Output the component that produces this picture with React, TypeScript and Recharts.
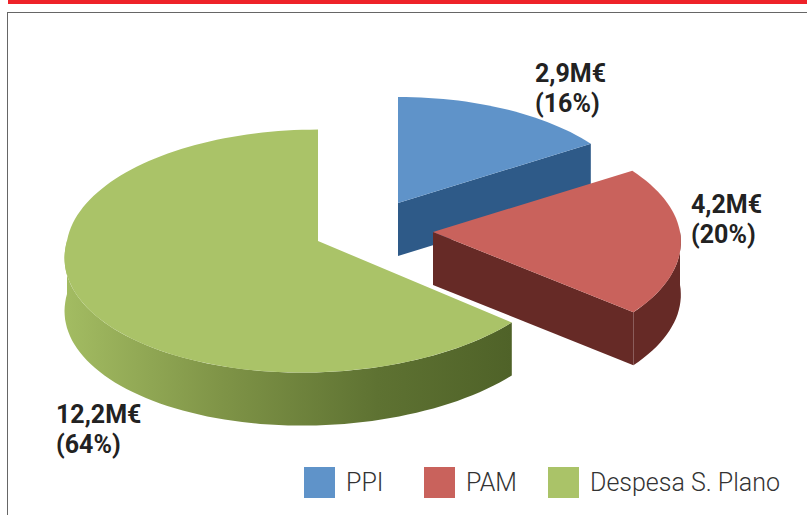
import { PieChart, Pie, Legend } from 'recharts'

const names = ['PPI', 'PAM', 'Despesa S. Plano']
const shares = [16, 20, 64]
const amounts = ['2,9M€', '4,2M€', '12,2M€']
const percents = ['(16%)', '(20%)', '(64%)']
const topColors = ['#5f93c9', '#c9625c', '#aac368']

const tableData = names.map((name, i) => ({ name, value: shares[i], fill: topColors[i] }))

// explode offset, radius and lean of each slice, the picture has some perspective
const sliceGeom = [
  { dx: 80, dy: -38, radius: 239, skew: 0 },
  { dx: 115, dy: -9, radius: 247, skew: 0 },
  { dx: 0, dy: 0, radius: 251, skew: -0.12 },
]
const faceColors = ['#2e5a88', '#662a26', '#4f6228']
const labelPos = [
  { x: 535, y: 82 },
  { x: 691, y: 213 },
  { x: 56, y: 423 },
]
const legendWidths = [120, 124, 240]

const DEPTH = 53
const SQUASH = 0.484
const PERSP = 0.083
const RAD = Math.PI / 180

function project(cx: number, cy: number, r: number, deg: number, skew: number) {
  const c = Math.cos(deg * RAD)
  const s = Math.sin(deg * RAD)
  const k = 1 - PERSP * s
  const dy = -r * SQUASH * s * k
  return { x: cx + r * c * k + Math.max(dy, 0) * skew, y: cy + dy }
}

function arcPoints(cx: number, cy: number, r: number, from: number, to: number, skew: number) {
  const n = Math.max(2, Math.ceil(Math.abs(from - to) / 2))
  const pts = []
  for (let i = 0; i <= n; i++) pts.push(project(cx, cy, r, from + ((to - from) * i) / n, skew))
  return pts
}

const toPath = (pts: { x: number; y: number }[]) =>
  pts.map((p, i) => `${i ? 'L' : 'M'}${p.x.toFixed(1)},${p.y.toFixed(1)}`).join(' ')

function Slice3D(props: any) {
  const { cx, cy, outerRadius, startAngle, endAngle, index, fill } = props
  const g = sliceGeom[index]
  const x0 = cx + g.dx
  const y0 = cy + g.dy
  const r = (outerRadius * g.radius) / 253
  const arc = arcPoints(x0, y0, r, startAngle, endAngle, g.skew)
  const top = toPath([{ x: x0, y: y0 }, ...arc]) + ' Z'

  // outer wall only on the part of the rim that faces the viewer
  const hi = Math.min(startAngle, 0)
  const lo = Math.max(endAngle, -180)
  let wall = null
  if (hi > lo) {
    const rim = arcPoints(x0, y0, r, hi, lo, g.skew)
    const low = rim.map(p => ({ x: p.x, y: p.y + DEPTH })).reverse()
    wall = toPath([...rim, ...low]) + ' Z'
  }

  // cut face at the end of the slice
  let face = null
  if (endAngle > -90) {
    const e = project(x0, y0, r, endAngle, g.skew)
    face = toPath([
      { x: x0, y: y0 },
      e,
      { x: e.x, y: e.y + DEPTH },
      { x: x0, y: y0 + DEPTH },
    ]) + ' Z'
  }

  return (
    <g>
      <defs>
        <linearGradient id="wallGreen" x1="0" y1="0" x2="1" y2="0">
          <stop offset="0" stopColor="#a3bc62" />
          <stop offset="0.35" stopColor="#7f9447" />
          <stop offset="0.7" stopColor="#5e7232" />
          <stop offset="1" stopColor="#4f6228" />
        </linearGradient>
      </defs>
      {wall && <path d={wall} fill={index === 2 ? 'url(#wallGreen)' : faceColors[index]} />}
      {face && <path d={face} fill={faceColors[index]} />}
      <path d={top} fill={fill} />
    </g>
  )
}

function SliceLabel(props: any) {
  const p = labelPos[props.index]
  return (
    <text x={p.x} y={p.y} fontFamily="Roboto" fontWeight={700} fontSize={25} fill="#222">
      <tspan x={p.x}>{amounts[props.index]}</tspan>
      <tspan x={p.x} dy={29.5}>{percents[props.index]}</tspan>
    </text>
  )
}

function ChartLegend({ payload }: any) {
  return (
    <div style={{ display: 'flex', fontFamily: 'Roboto', fontWeight: 300, fontSize: 25, color: '#333', whiteSpace: 'nowrap' }}>
      {(payload || []).map((item: any, i: number) => (
        <div key={item.value} style={{ display: 'flex', alignItems: 'center', width: legendWidths[i] }}>
          <span style={{ width: 31, height: 31, background: topColors[i], marginRight: 11, flexShrink: 0 }} />
          <span>{item.value}</span>
        </div>
      ))}
    </div>
  )
}

export default function App() {
  return (
    <div style={{ position: 'absolute', left: 0, top: 0, width: 807, height: 515, overflow: 'hidden', background: '#fff' }}>
      <div style={{ position: 'absolute', left: 8, top: 0, right: 0, height: 4, background: '#ee2229' }} />
      <div style={{ position: 'absolute', left: 7, top: 12, right: 0, bottom: 0, borderLeft: '1px solid #666', borderTop: '1px solid #666' }} />
      <div style={{ position: 'absolute', left: 0, top: 0 }}>
        <PieChart width={807} height={515} margin={{ top: 0, right: 0, bottom: 0, left: 0 }}>
          <Pie
            data={tableData}
            dataKey="value"
            nameKey="name"
            cx={318}
            cy={241}
            outerRadius={253}
            startAngle={90}
            endAngle={-270}
            stroke="none"
            shape={Slice3D}
            label={SliceLabel}
            labelLine={false}
            isAnimationActive={false}
          />
          <Legend
            content={ChartLegend}
            layout="horizontal"
            verticalAlign="bottom"
            align="left"
            itemSorter={null}
            wrapperStyle={{ left: 304, top: 467, bottom: 'auto', width: 490 }}
          />
        </PieChart>
      </div>
    </div>
  )
}
